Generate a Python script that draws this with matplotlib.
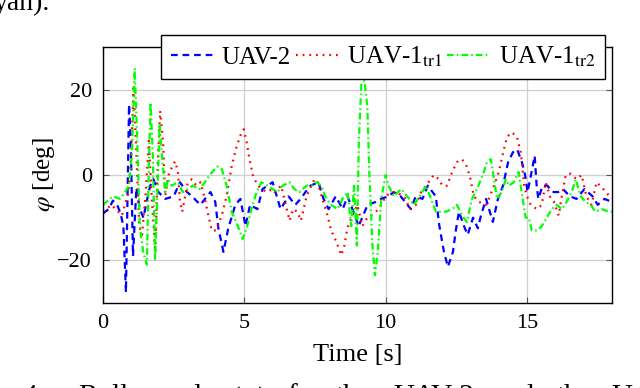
import matplotlib
matplotlib.use('Agg')
import matplotlib.pyplot as plt

# roll angle samples
blue_t = [0.0, 0.2, 0.35, 0.5, 0.62, 0.72, 0.81, 0.92, 0.98, 1.06, 1.18, 1.3, 1.43, 1.55, 1.67, 1.78, 1.96,
          2.2, 2.5, 2.72, 2.97, 3.15, 3.44, 3.8, 3.97, 4.08, 4.26, 4.43, 4.68, 4.86, 5.04, 5.2, 5.46, 5.64,
          6.0, 6.28, 6.56, 6.8, 6.99, 7.16, 7.34, 7.62, 7.8, 7.98, 8.23, 8.48, 8.65, 8.94, 9.04, 9.36, 9.65,
          9.82, 10.1, 10.28, 10.53, 10.89, 11.06, 11.3, 11.49, 11.77, 11.9, 12.06, 12.2, 12.38, 12.48, 12.59,
          12.77, 12.9, 13.09, 13.26, 13.37, 13.55, 13.79, 13.97, 14.15, 14.33, 14.5, 14.65, 14.82, 14.93,
          15.02, 15.18, 15.27, 15.34, 15.4, 15.55, 15.72, 15.9, 16.1, 16.27, 16.52, 16.75, 17.03, 17.32,
          17.5, 17.74, 18.0]
blue_v = [-9, -8, -6, -7, -9, -12, -27.5, 16.5, 8, -19, -3, -8, -10, -6, -2.5, -1, -4,
          -5.6, -5, -1.7, -4, -5, -7, -4, -6.3, -12.5, -18, -12.5, -7, -5.6, -12, -7, -8, -3.3,
          -1.7, -8, -5, -7, -5.6, -4, -2.5, -1.7, -5.6, -8, -5, -8, -5, -10, -12, -7, -6.3,
          -5.6, -5, -4, -5, -8, -5, -5.6, -2.5, -5, -12, -18, -21.5, -18, -13, -8.6,
          -12, -14, -10, -12.5, -9.5, -5.6, -11, -5.6, -2.5, 3, 5.3, 6, 3, 0,
          -4, 1.4, 4.5, -2.5, -5.6, -2.5, -2.5, -4, -4, -3.3, -5, -5.6, -3.3, -5,
          -7, -5.6, -6.3]

red_t = [0.0, 0.3, 0.67, 0.9, 1.0, 1.08, 1.18, 1.28, 1.38, 1.5, 1.62, 1.72, 1.85, 1.93, 2.02, 2.12, 2.2,
         2.32, 2.45, 2.55, 2.65, 2.72, 2.8, 3.0, 3.14, 3.3, 3.45, 3.6, 3.7, 3.84, 4.0, 4.2, 4.37, 4.55,
         4.73, 4.9, 4.98, 5.08, 5.18, 5.3, 5.47, 5.78, 6.0, 6.07, 6.3, 6.5, 6.6, 6.72, 6.88, 7.0, 7.2,
         7.37, 7.48, 7.58, 7.76, 7.94, 8.07, 8.25, 8.43, 8.54, 8.64, 8.82, 9.0, 9.17, 9.35, 9.66, 9.84,
         10.0, 10.2, 10.4, 10.72, 10.83, 11.07, 11.25, 11.43, 11.7, 11.88, 12.0, 12.17, 12.35, 12.52,
         12.7, 12.87, 13.0, 13.12, 13.3, 13.55, 13.65, 13.83, 14.0, 14.18, 14.3, 14.46, 14.64, 14.78,
         14.9, 15.0, 15.13, 15.35, 15.52, 15.66, 15.84, 15.95, 16.12, 16.23, 16.37, 16.54, 16.75, 16.93,
         17.1, 17.28, 17.46, 17.7, 18.0]
red_v = [-8.6, -7, -9.5, -4, 5, 21, 5, -12, -14, -5, 8, -5, -18, 2, 15, 8, -5,
         0, 2, 3.2, 0.7, -6, -8.6, -1.7, -1, -2.5, -1.7, -5.6, -8.6, -13, -13, -9.5, -5, 2,
         6.8, 10, 10.7, 7.7, 3.7, 0, -2.5, -4, -3.3, -4, -2.5, -8, -10.7, -8, -8.6, -10.7, -5,
         -2.5, -1, -1.4, -5.6, -9.5, -13, -15.6, -18.8, -16.5, -12.5, -9.5, -7, -12, -10, -8.6, -7,
         -5, -4, -4, -5.6, -8, -7, -4, -2.5, 0, -1, -2.5, -2.5, 0.7, 3,
         3.7, 2, -1, -5, -6.3, -7, -5.6, -2.5, 0.7, 6, 9, 10, 9, 5.3,
         -2.5, -5, -7, -8, -7, -1.7, -5.6, -6.3, -9.5, -5, 0, 0.3, -1, 0,
         -5, -7, -1.7, -3.3, -5.6]

green_t = [0.0, 0.35, 0.6, 0.78, 0.92, 1.02, 1.12, 1.2, 1.3, 1.42, 1.55, 1.62, 1.68, 1.76, 1.84, 1.92, 2.0,
           2.08, 2.2, 2.3, 2.43, 2.65, 2.82, 3.0, 3.17, 3.42, 3.6, 3.78, 3.95, 4.05, 4.2, 4.37, 4.55, 4.77,
           4.94, 5.1, 5.25, 5.43, 5.6, 5.82, 6.0, 6.17, 6.35, 6.6, 6.77, 6.95, 7.2, 7.37, 7.55, 7.72, 7.9,
           8.07, 8.3, 8.47, 8.65, 8.78, 8.88, 8.98, 9.05, 9.14, 9.25, 9.35, 9.42, 9.53, 9.62, 9.72, 9.84,
           10.0, 10.1, 10.28, 10.55, 10.76, 11.0, 11.2, 11.43, 11.6, 11.78, 12.0, 12.13, 12.35, 12.52,
           12.7, 12.87, 13.05, 13.23, 13.37, 13.47, 13.58, 13.72, 13.83, 13.94, 14.1, 14.25, 14.36, 14.53,
           14.7, 14.81, 14.95, 15.06, 15.17, 15.35, 15.52, 15.7, 15.87, 16.05, 16.23, 16.4, 16.58, 16.72,
           16.9, 17.07, 17.25, 17.42, 17.64, 17.9, 18.0]
green_v = [-7, -5, -5.6, -4, -2.5, 5, 25, 10, -12, -18, -21, 2, 17, 5, -20, -5, 12,
           5, -4, -1, -2.5, -1.7, -4, -3.3, -2.5, -3.3, -1.7, 0, 1.4, 2, 1.4, -2.5, -8.6, -12,
           -15, -12, -8, -4, -1.7, -2.5, -3.3, -4, -2.5, -1.7, -3.3, -4, -2.5, -2.5, -1.7, -2.5, -5.6,
           -7, -8, -5.6, -4, -12, -2.5, -16.5, 8, 21.6, 22, 16, 0.7, -16.5, -23.5, -18, -5.6,
           0, -2.5, -5, -3.3, -5, -7, -5, -2.5, -5.6, -8.6, -8.6, -8.6, -8, -7,
           -9.5, -11, -5.6, -3.3, -1, 0.7, 3, 3.7, -1, -5.6, -4, -1, -2.5, -1.7,
           0.7, -4, -10, -10, -13, -13, -12, -10, -8, -7, -8, -6.3, -4, -1,
           -5, -6.3, -7, -8.6, -8, -8.6, -8.6]

labels = ['UAV-2', r'UAV-1$_{\mathrm{tr1}}$', r'UAV-1$_{\mathrm{tr2}}$']
x_ticks = [0, 5, 10, 15]
y_ticks = [-20, 0, 20]

# words of the caption line cut off at the bottom of the crop, with their left edge in px
caption_words = ['re', '4:', 'Roll', 'angle', '($\\varphi$)', 'for', 'the', 'UAV-2', 'and', 'the', 'UAV-1']
caption_x = [-16, 22, 78, 152, 230, 287, 336, 393, 492, 557, 611]

plt.rcParams['font.family'] = ['Liberation Serif', 'DejaVu Serif']
plt.rcParams['mathtext.fontset'] = 'stix'
plt.rcParams['font.size'] = 16


def main():
    W, H = 640, 388
    fig = plt.figure(figsize=(W / 100, H / 100), dpi=100)
    ax = fig.add_axes([0.161, 0.219, 0.795, 0.660])

    lw = 1.6
    ax.plot(blue_t, blue_v, color=(0, 0, 1), lw=lw, dashes=(3.0, 2.2), label=labels[0])
    ax.plot(red_t, red_v, color=(1, 0, 0), lw=lw, dashes=(0.8, 2.2), label=labels[1])
    ax.plot(green_t, green_v, color=(0, 1, 0), lw=lw, dashes=(3.0, 1.4, 0.7, 1.4), label=labels[2])

    ax.set_xlim(0, 18)
    ax.set_ylim(-30, 30)
    ax.set_xticks(x_ticks)
    ax.set_yticks(y_ticks)
    ax.grid(True, color='#cfcfcf', lw=0.9)
    ax.set_axisbelow(True)
    ax.tick_params(direction='in', length=4, width=0.8, color='#555555',
                   top=True, right=True, pad=8, labelsize=16)
    for s in ax.spines.values():
        s.set_linewidth(1.0)

    ax.set_xlabel('Time [s]', fontsize=19, labelpad=8)
    ax.set_ylabel(r'$\varphi$ [deg]', fontsize=18, labelpad=0)

    leg = ax.legend(loc='center', bbox_to_anchor=(0.55, 0.962), ncol=3, frameon=True,
                    fancybox=False, framealpha=1, edgecolor='black', fontsize=18,
                    handlelength=1.7, handletextpad=0.35, columnspacing=0.2,
                    borderpad=0.4, borderaxespad=0)
    leg.get_frame().set_linewidth(1.0)

    # cut-off caption lines from the page
    fig.text(-6 / W, 1 - 10 / H, 'yan).', fontsize=20, va='baseline')
    for word, x in zip(caption_words, caption_x):
        fig.text(x / W, 1 - 384 / H, word, fontsize=21, va='top')

    fig.savefig('out.png', dpi=100)


if __name__ == '__main__':
    main()
